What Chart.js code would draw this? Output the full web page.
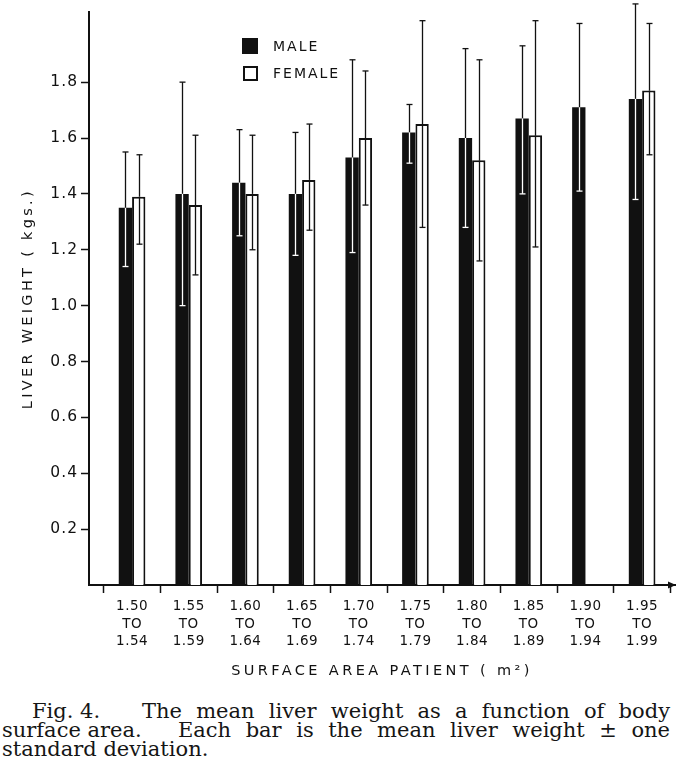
<!DOCTYPE html>
<html>
<head>
<meta charset="utf-8">
<script src="https://cdn.jsdelivr.net/npm/chart.js@4.4.1/dist/chart.umd.min.js"></script>
<style>
html,body{margin:0;padding:0;background:#fff;}
#wrap{position:relative;width:677px;height:690px;}
#cap{position:absolute;left:2px;top:702px;width:668px;font-family:"DejaVu Serif",serif;font-size:21px;line-height:19px;color:#151515;}
#cap .j{text-align:justify;text-align-last:justify;}
#cap .lead{display:inline-block;text-align:left;text-align-last:left;}
</style>
</head>
<body>
<div id="wrap"><canvas id="c"></canvas></div>
<div id="cap">
<div class="j" style="padding-left:30px"><span class="lead" style="width:110px">Fig. 4.</span>The mean liver weight as a function of body</div>
<div class="j"><span class="lead" style="width:176px">surface area.</span>Each bar is the mean liver weight ± one</div>
<div>standard deviation.</div>
</div>
<script>
// ---- data ----
const rangeStart = ['1.50','1.55','1.60','1.65','1.70','1.75','1.80','1.85','1.90','1.95'];
const rangeEnd   = ['1.54','1.59','1.64','1.69','1.74','1.79','1.84','1.89','1.94','1.99'];
const maleMean   = [1.35, 1.40, 1.44, 1.40, 1.53, 1.62, 1.60, 1.67, 1.71, 1.74];
const maleHigh   = [1.55, 1.80, 1.63, 1.62, 1.88, 1.72, 1.92, 1.93, 2.01, 2.08];
const maleLow    = [1.14, 1.00, 1.25, 1.18, 1.19, 1.51, 1.28, 1.40, 1.41, 1.38];
const femaleMean = [1.39, 1.36, 1.40, 1.45, 1.60, 1.65, 1.52, 1.61, null, 1.77];
const femaleHigh = [1.54, 1.61, 1.61, 1.65, 1.84, 2.02, 1.88, 2.02, null, 2.01];
const femaleLow  = [1.22, 1.11, 1.20, 1.27, 1.36, 1.28, 1.16, 1.21, null, 1.54];
const yTickValues = [0.2, 0.4, 0.6, 0.8, 1.0, 1.2, 1.4, 1.6, 1.8];
const seriesNames = ['MALE', 'FEMALE'];

const INK = '#111';
const SANS = '"DejaVu Sans", "Liberation Sans", sans-serif';

// letter spacing for axis text (canvas letterSpacing)
const spacingPlugin = {
  id: 'spacing',
  beforeDraw(chart) {
    const cfg = { x: { labels: '0.5px', title: '3.4px' }, y: { labels: '1px', title: '3.3px' } };
    for (const id of Object.keys(cfg)) {
      const s = chart.scales[id];
      if (!s || s._spWrapped) continue;
      const wrap = (fn, sp) => function (...a) {
        const ctx = this.ctx; const prev = ctx.letterSpacing;
        ctx.letterSpacing = sp;
        try { return fn.apply(this, a); } finally { ctx.letterSpacing = prev; }
      };
      s.drawTitle = wrap(s.drawTitle, cfg[id].title);
      s.drawLabels = wrap(s.drawLabels, cfg[id].labels);
      s._spWrapped = true;
    }
  }
};

// error bars (mean ± 1 SD)
const errorBars = {
  id: 'errorBars',
  afterDatasetsDraw(chart) {
    const ctx = chart.ctx, ys = chart.scales.y;
    const sets = [{ hi: maleHigh, lo: maleLow, inner: '#fff' }, { hi: femaleHigh, lo: femaleLow, inner: INK }];
    sets.forEach((s, d) => {
      const meta = chart.getDatasetMeta(d);
      meta.data.forEach((bar, i) => {
        if (s.hi[i] == null || s.lo[i] == null) return;
        const x = Math.round(bar.x) + 0.5, top = bar.y;
        const yh = ys.getPixelForValue(s.hi[i]), yl = ys.getPixelForValue(s.lo[i]);
        const cap = 3;
        ctx.save();
        ctx.lineWidth = 1.3;
        ctx.strokeStyle = INK;
        ctx.beginPath(); ctx.moveTo(x, yh); ctx.lineTo(x, Math.min(top, yl)); ctx.stroke();
        ctx.beginPath(); ctx.moveTo(x - cap, yh); ctx.lineTo(x + cap, yh); ctx.stroke();
        ctx.strokeStyle = s.inner;
        if (yl > top) { ctx.beginPath(); ctx.moveTo(x, top); ctx.lineTo(x, yl); ctx.stroke(); }
        ctx.beginPath(); ctx.moveTo(x - cap, yl); ctx.lineTo(x + cap, yl); ctx.stroke();
        ctx.restore();
      });
    });
  }
};

// legend box + arrow head on x axis
const decor = {
  id: 'decor',
  afterDraw(chart) {
    const ctx = chart.ctx, a = chart.chartArea;
    ctx.save();
    ctx.fillStyle = INK;
    ctx.beginPath();
    ctx.moveTo(a.right + 1, a.bottom);
    ctx.lineTo(a.right - 7, a.bottom - 3.5);
    ctx.lineTo(a.right - 7, a.bottom + 3.5);
    ctx.closePath(); ctx.fill();
    // legend
    ctx.fillStyle = INK;
    ctx.fillRect(242, 38, 16, 16);
    ctx.strokeStyle = INK; ctx.lineWidth = 2;
    ctx.strokeRect(244, 67, 13, 13);
    ctx.font = '14px ' + SANS;
    ctx.letterSpacing = '2px';
    ctx.textBaseline = 'middle';
    ctx.textAlign = 'left';
    ctx.fillText(chart.data.datasets[0].label, 273, 47);
    ctx.fillText(chart.data.datasets[1].label, 273, 74);
    ctx.restore();
  }
};

new Chart(document.getElementById('c'), {
  type: 'bar',
  data: {
    datasets: [
      {
        label: seriesNames[0],
        data: maleMean.map((v, i) => ({ x: i, y: v })),
        backgroundColor: INK,
        borderWidth: 0
      },
      {
        label: seriesNames[1],
        data: femaleMean.map((v, i) => ({ x: i, y: v })),
        backgroundColor: '#fff',
        borderColor: INK,
        borderWidth: { top: 2, left: 2, right: 2, bottom: 0 }
      }
    ]
  },
  options: {
    responsive: true,
    maintainAspectRatio: false,
    animation: false,
    categoryPercentage: 0.47,
    barPercentage: 1.0,
    layout: { padding: { top: 12, right: 2, left: 0, bottom: 0 } },
    plugins: { legend: { display: false }, tooltip: { enabled: false } },
    scales: {
      x: {
        type: 'linear',
        min: -0.76,
        max: 9.58,
        offset: false,
        afterBuildTicks: s => { s.ticks = rangeStart.map((_, i) => ({ value: i })); },
        afterFit: s => { s.height = 105; },
        grid: { display: true, drawOnChartArea: false, drawTicks: true, tickLength: 8, tickColor: INK, tickWidth: 1.5 },
        border: { display: true, color: INK, width: 2 },
        ticks: {
          autoSkip: false, maxRotation: 0, padding: 5, color: INK,
          font: { family: SANS, size: 13.5, lineHeight: 1.3 },
          callback: (v, i) => [rangeStart[i], 'TO', rangeEnd[i]]
        },
        title: {
          display: true, text: 'SURFACE AREA PATIENT ( m²)', color: INK,
          font: { family: SANS, size: 14.5, lineHeight: 1.2 },
          padding: { top: 2, bottom: 10 }
        }
      },
      y: {
        min: 0,
        max: 2.05,
        afterBuildTicks: s => { s.ticks = yTickValues.map(v => ({ value: v })); },
        afterFit: s => { s.width = 89; },
        grid: { display: true, drawOnChartArea: false, drawTicks: true, tickLength: 8, tickColor: INK, tickWidth: 1.5 },
        border: { display: true, color: INK, width: 2 },
        ticks: {
          padding: 3, color: INK,
          font: { family: SANS, size: 15.5 },
          callback: v => Number(v).toFixed(1)
        },
        title: {
          display: true, text: 'LIVER WEIGHT ( kgs.)', color: INK,
          font: { family: SANS, size: 14.5, lineHeight: 1.2 },
          padding: { top: 20, bottom: 0 }
        }
      }
    }
  },
  plugins: [spacingPlugin, errorBars, decor]
});
</script>
</body>
</html>
